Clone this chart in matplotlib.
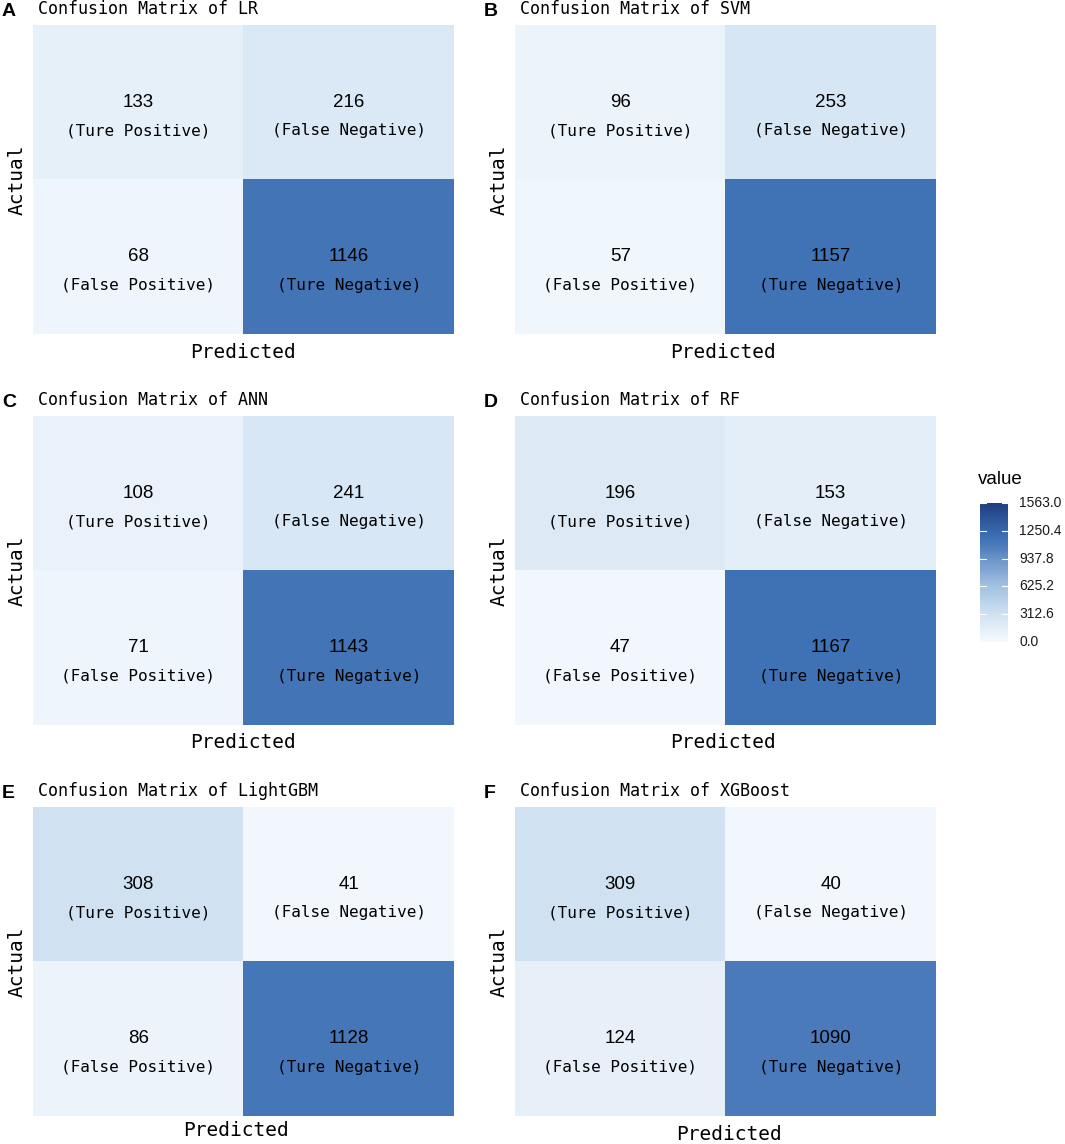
import numpy as np
import matplotlib
matplotlib.use("Agg")
import matplotlib.pyplot as plt
from matplotlib.colors import LinearSegmentedColormap, Normalize

# ---- data ----
models = ["LR", "SVM", "ANN", "RF", "LightGBM", "XGBoost"]
panel_letters = ["A", "B", "C", "D", "E", "F"]
tp = [133, 96, 108, 196, 308, 309]
fn = [216, 253, 241, 153, 41, 40]
fp = [68, 57, 71, 47, 86, 124]
tn = [1146, 1157, 1143, 1167, 1128, 1090]
cell_names = [["(Ture Positive)", "(False Negative)"],
              ["(False Positive)", "(Ture Negative)"]]
cbar_ticks = [0.0, 312.6, 625.2, 937.8, 1250.4, 1563.0]
vmax = 1563.0

W, H = 1065, 1144
fig = plt.figure(figsize=(W / 100, H / 100), dpi=100)

def rect(x0, y0, x1, y1):
    return [x0 / W, 1 - y1 / H, (x1 - x0) / W, (y1 - y0) / H]

cmap = LinearSegmentedColormap.from_list(
    "blu",
    [(0.0, "#f7fbff"), (0.125, "#deebf7"), (0.2, "#d0e2f2"), (0.4, "#a3c1e2"),
     (0.6, "#6b94c9"), (0.70, "#4a7aba"), (0.75, "#3f72b5"), (1.0, "#1f3e82")])
norm = Normalize(0, vmax)

mono = "DejaVu Sans Mono"
sans = "Liberation Sans"

col_x = [(33, 454), (515, 936)]
row_tops = [25, 416, 807]
ph = 309
pred_pos = [[(243, 352), (723, 352)], [(243, 743), (723, 743)],
            [(236, 1130), (729, 1134)]]

for k, m in enumerate(models):
    r, c = divmod(k, 2)
    x0, x1 = col_x[c]
    y0 = row_tops[r]
    y1 = y0 + ph
    ax = fig.add_axes(rect(x0, y0, x1, y1))
    mat = np.array([[tp[k], fn[k]], [fp[k], tn[k]]], dtype=float)
    ax.imshow(mat, cmap=cmap, norm=norm, aspect="auto",
              extent=(-0.5, 1.5, 1.5, -0.5), interpolation="nearest")
    ax.set_xlim(-0.5, 1.5)
    ax.set_ylim(1.5, -0.5)
    ax.axis("off")
    for i in range(2):
        for j in range(2):
            ax.annotate(str(int(mat[i, j])), (j, i), ha="center", va="center",
                        fontsize=13.5, family=sans, color="black")
            ax.annotate(cell_names[i][j], (j, i), xytext=(0, -20.5),
                        textcoords="offset points", ha="center", va="center",
                        fontsize=11.5, family=mono, color="black")
    # title and letter
    fig.text((x0 + 5) / W, 1 - (y0 - 16) / H, f"Confusion Matrix of {m}",
             ha="left", va="center", fontsize=12, family=mono, color="black")
    fig.text((x0 - 31) / W, 1 - (y0 - 14) / H, panel_letters[k],
             ha="left", va="center", fontsize=14, family=sans,
             fontweight="bold", color="black")
    # axis labels
    fig.text((x0 - 16) / W, 1 - ((y0 + y1) / 2) / H, "Actual", rotation=90,
             ha="center", va="center", fontsize=14, family=mono)
    px, py = pred_pos[r][c]
    fig.text(px / W, 1 - py / H, "Predicted",
             ha="center", va="center", fontsize=14, family=mono)

# colorbar
cax = fig.add_axes(rect(980, 503, 1008, 642))
grad = np.linspace(0, vmax, 256).reshape(-1, 1)
cax.imshow(grad, cmap=cmap, norm=norm, aspect="auto", origin="lower",
           extent=(0, 1, 0, vmax))
cax.set_xlim(0, 1)
cax.set_ylim(0, vmax)
for t in cbar_ticks:
    cax.plot([0, 0.2], [t, t], color="white", lw=0.8)
    cax.plot([0.8, 1], [t, t], color="white", lw=0.8)
cax.set_xticks([])
cax.set_yticks([])
for s in cax.spines.values():
    s.set_visible(False)
for t in cbar_ticks:
    fig.text(1019 / W, 1 - (642 - (t / vmax) * (642 - 503)) / H, f"{t:.1f}",
             ha="left", va="center", fontsize=10, family=sans, color="#1a1a1a")
fig.text(978 / W, 1 - 480 / H, "value", ha="left", va="center",
         fontsize=13.5, family=sans, color="black")

fig.savefig("out.png", dpi=100)
